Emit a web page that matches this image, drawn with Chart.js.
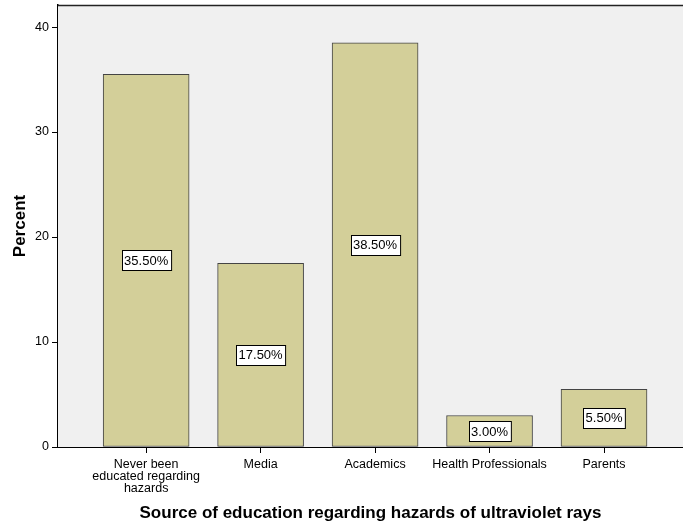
<!DOCTYPE html>
<html>
<head>
<meta charset="utf-8">
<script src="https://cdn.jsdelivr.net/npm/chart.js@4.4.1/dist/chart.umd.min.js"></script>
<style>
  html, body { margin: 0; padding: 0; background: #ffffff; }
  #wrap { width: 683px; height: 527px; }
</style>
</head>
<body>
<div id="wrap"><canvas id="grafico" width="683" height="527"></canvas></div>
<script>
// Datos del grafico
const categorias = [
    ["Never been", "educated regarding", "hazards"],
    "Media",
    "Academics",
    "Health Professionals",
    "Parents"
];
const porcentajes = [35.5, 17.5, 38.5, 3.0, 5.5];
const ticksY = [0, 10, 20, 30, 40];

const ctx = document.getElementById("grafico").getContext("2d");
const fuente = "'Liberation Sans', Arial, sans-serif";

// Fondo gris del area y linea superior
const fondoPlugin = {
    id: "fondo",
    beforeDatasetsDraw(chart) {
        const a = chart.chartArea;
        const c = chart.ctx;
        c.save();
        c.fillStyle = "#f0f0f0";
        c.fillRect(a.left, a.top, a.right - a.left, a.bottom - a.top);
        c.strokeStyle = "#222222";
        c.lineWidth = 1.5;
        c.beginPath();
        c.moveTo(a.left, a.top + 0.5);
        c.lineTo(a.right, a.top + 0.5);
        c.stroke();
        c.restore();
    }
};

// Etiquetas con el porcentaje en el centro de cada barra
const etiquetasPlugin = {
    id: "etiquetas",
    afterDatasetsDraw(chart) {
        const c = chart.ctx;
        const meta = chart.getDatasetMeta(0);
        c.save();
        c.font = "13px " + fuente;
        c.textAlign = "center";
        c.textBaseline = "middle";
        meta.data.forEach((bar, i) => {
            const texto = porcentajes[i].toFixed(2) + "%";
            const cy = (bar.y + bar.base) / 2;
            const w = c.measureText(texto).width + 5;
            const h = 20;
            const x0 = Math.round(bar.x - w / 2) + 0.5;
            const y0 = Math.round(cy - h / 2) + 0.5;
            c.fillStyle = "#ffffff";
            c.fillRect(x0, y0, w, h);
            c.strokeStyle = "#000000";
            c.lineWidth = 1;
            c.strokeRect(x0, y0, w, h);
            c.fillStyle = "#000000";
            c.fillText(texto, bar.x, cy + 1);
        });
        c.restore();
    }
};

const config = {
    type: "bar",
    data: {
        datasets: [{
            data: porcentajes.map((v, i) => ({ x: i, y: v })),
            backgroundColor: "#d3cf99",
            borderColor: "#444444",
            borderWidth: 1,
            borderSkipped: false,
            barThickness: 86
        }]
    },
    options: {
        responsive: false,
        animation: false,
        layout: { padding: { top: 5, right: 0, left: 0, bottom: 0 } },
        plugins: {
            legend: { display: false },
            tooltip: { enabled: false }
        },
        scales: {
            x: {
                type: "linear",
                offset: false,
                min: -0.77,
                max: 4.69,
                afterBuildTicks: (scale) => {
                    scale.ticks = categorias.map((_, i) => ({ value: i }));
                },
                afterFit: (scale) => {
                    scale.height = 80;
                    scale.paddingLeft = 0;
                    scale.paddingRight = 0;
                },
                grid: { offset: false, drawOnChartArea: false, tickLength: 6, color: "#000000" },
                border: { color: "#000000", width: 1 },
                ticks: {
                    autoSkip: false,
                    maxRotation: 0,
                    padding: 5,
                    color: "#000000",
                    font: { family: fuente, size: 12.5, lineHeight: 0.97 },
                    callback: (v) => categorias[v]
                },
                title: {
                    display: true,
                    text: "Source of education regarding hazards of ultraviolet rays",
                    color: "#000000",
                    font: { family: fuente, size: 17, weight: "bold" },
                    padding: { top: 0, bottom: 3 }
                }
            },
            y: {
                min: 0,
                max: 42.1,
                afterBuildTicks: (scale) => {
                    scale.ticks = ticksY.map((v) => ({ value: v }));
                },
                afterFit: (scale) => {
                    scale.width = 58;
                    scale.paddingTop = 0;
                    scale.paddingBottom = 0;
                },
                grid: { drawOnChartArea: false, tickLength: 6, color: "#000000" },
                border: { color: "#000000", width: 1.5 },
                ticks: {
                    padding: 3,
                    color: "#000000",
                    font: { family: fuente, size: 12.5 }
                },
                title: {
                    display: true,
                    text: "Percent",
                    color: "#000000",
                    font: { family: fuente, size: 17, weight: "bold" },
                    padding: { top: 10, bottom: 0 }
                }
            }
        }
    },
    plugins: [fondoPlugin, etiquetasPlugin]
};

new Chart(ctx, config);
</script>
</body>
</html>
